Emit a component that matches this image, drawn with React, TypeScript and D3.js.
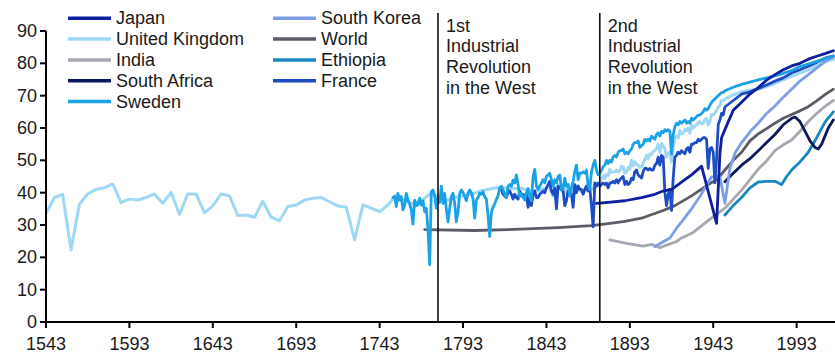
import React from "react";
import * as d3 from "d3";

type Pt = [number, number];

// ---------- data (life expectancy at birth, years) ----------
const ukEarly: Pt[] = [
  [1543, 33.6], [1548, 38.5], [1553, 39.5], [1558, 22.3], [1563, 36.4], [1568, 39.6], [1573, 41.0], [1578, 41.5],
  [1583, 42.7], [1588, 36.9], [1593, 38.0], [1598, 37.7], [1603, 38.5], [1608, 39.6], [1613, 36.7], [1618, 40.1],
  [1623, 33.3], [1628, 39.6], [1633, 39.6], [1638, 33.8], [1643, 35.9], [1648, 39.6], [1653, 39.0], [1658, 32.9],
  [1663, 33.1], [1668, 32.4], [1673, 37.4], [1678, 32.4], [1683, 31.3], [1688, 35.7], [1693, 36.2], [1698, 37.7],
  [1703, 38.3], [1708, 38.5], [1713, 37.2], [1718, 35.9], [1723, 35.5], [1728, 25.4], [1733, 36.2], [1738, 35.2],
  [1743, 34.1], [1748, 36.2], [1753, 39.3], [1758, 37.5], [1763, 36.5], [1768, 37.5], [1773, 39.5], [1778, 39.0],
  [1783, 37.5], [1788, 38.5], [1793, 39.0], [1798, 39.5], [1803, 40.5], [1808, 41.0], [1813, 41.5], [1818, 41.5],
  [1823, 41.2], [1828, 41.4], [1833, 40.6], [1838, 40.5],
];
const ukLate: Pt[] = [
  [1841, 41.3], [1842, 41.0], [1843, 41.5], [1844, 41.6], [1845, 42.0], [1846, 40.3], [1847, 38.9], [1848, 40.3],
  [1849, 38.5], [1850, 42.5], [1851, 41.5], [1852, 40.8], [1853, 40.2], [1854, 39.8], [1855, 41.0], [1856, 42.6],
  [1857, 41.4], [1858, 40.2], [1859, 41.0], [1860, 42.4], [1861, 41.6], [1862, 42.2], [1863, 40.6], [1864, 40.2],
  [1865, 40.5], [1866, 40.4], [1867, 42.2], [1868, 41.5], [1869, 41.7], [1870, 41.2], [1871, 41.0], [1872, 42.6],
  [1873, 42.8], [1874, 42.7], [1875, 42.6], [1876, 44.3], [1877, 45.3], [1878, 44.3], [1879, 45.6], [1880, 45.3],
  [1881, 47.2], [1882, 46.3], [1883, 46.4], [1884, 46.4], [1885, 47.0], [1886, 46.4], [1887, 46.7], [1888, 48.2],
  [1889, 48.0], [1890, 46.0], [1891, 46.3], [1892, 47.8], [1893, 47.2], [1894, 50.0], [1895, 48.3], [1896, 49.6],
  [1897, 48.7], [1898, 48.6], [1899, 47.8], [1900, 48.0], [1901, 49.2], [1902, 50.2], [1903, 51.6], [1904, 50.5],
  [1905, 52.0], [1906, 51.7], [1907, 52.8], [1908, 53.0], [1909, 53.7], [1910, 55.0], [1911, 52.5], [1912, 55.2],
  [1913, 54.3], [1914, 53.5], [1915, 51.0], [1916, 52.2], [1917, 52.6], [1918, 49.5], [1919, 54.0], [1920, 57.0],
  [1921, 57.6], [1922, 56.9], [1923, 59.2], [1924, 58.2], [1925, 58.5], [1926, 59.5], [1927, 59.2], [1928, 60.0],
  [1929, 58.4], [1930, 60.9], [1931, 60.0], [1932, 60.6], [1933, 60.9], [1934, 61.5], [1935, 62.0], [1936, 61.3],
  [1937, 61.4], [1938, 62.7], [1939, 62.9], [1940, 61.0], [1941, 61.9], [1942, 64.2], [1943, 64.0], [1944, 64.6],
  [1945, 65.4], [1946, 66.5], [1947, 66.9], [1948, 68.5], [1949, 68.6], [1950, 69.0], [1955, 70.2], [1960, 71.2],
  [1965, 71.7], [1970, 72.0], [1975, 72.8], [1980, 73.8], [1985, 74.9], [1990, 75.9], [1995, 77.0], [2000, 78.0],
  [2005, 79.2], [2010, 80.6], [2015, 81.2],
];
const sweden: Pt[] = [
  [1751, 38.5], [1752, 38.8], [1753, 35.7], [1754, 39.8], [1755, 37.7], [1756, 38.8], [1757, 34.7], [1758, 36.0],
  [1759, 39.8], [1760, 37.7], [1761, 36.5], [1762, 34.7], [1763, 30.3], [1764, 37.7], [1765, 36.0], [1766, 36.2],
  [1767, 38.3], [1768, 36.2], [1769, 37.5], [1770, 34.1], [1771, 35.2], [1772, 28.5], [1773, 17.7], [1774, 40.3],
  [1775, 40.8], [1776, 39.0], [1777, 35.2], [1778, 38.5], [1779, 37.0], [1780, 42.0], [1781, 36.7], [1782, 39.8],
  [1783, 35.0], [1784, 31.0], [1785, 35.0], [1786, 38.8], [1787, 39.8], [1788, 36.7], [1789, 31.0], [1790, 34.0],
  [1791, 39.8], [1792, 40.8], [1793, 40.0], [1794, 38.8], [1795, 37.5], [1796, 39.8], [1797, 40.8], [1798, 40.0],
  [1799, 38.0], [1800, 32.1], [1801, 37.7], [1802, 38.5], [1803, 39.8], [1804, 39.5], [1805, 40.3], [1806, 38.8],
  [1807, 38.0], [1808, 33.0], [1809, 26.5], [1810, 34.0], [1811, 35.5], [1812, 36.5], [1813, 38.0], [1814, 39.0],
  [1815, 41.5], [1816, 42.0], [1817, 40.8], [1818, 39.5], [1819, 38.5], [1820, 41.9], [1821, 42.5], [1822, 42.0],
  [1823, 43.9], [1824, 43.0], [1825, 45.5], [1826, 42.5], [1827, 38.8], [1828, 39.8], [1829, 38.5], [1830, 37.7],
  [1831, 40.0], [1832, 41.3], [1833, 38.8], [1834, 37.5], [1835, 45.0], [1836, 47.2], [1837, 42.0], [1838, 41.0],
  [1839, 42.0], [1840, 43.0], [1841, 44.0], [1842, 43.0], [1843, 45.0], [1844, 45.5], [1845, 46.0], [1846, 44.0],
  [1847, 42.0], [1848, 44.0], [1849, 43.0], [1850, 45.0], [1851, 45.5], [1852, 41.0], [1853, 41.0], [1854, 44.5],
  [1855, 42.0], [1856, 42.5], [1857, 39.0], [1858, 41.5], [1859, 43.5], [1860, 46.5], [1861, 48.5], [1862, 44.0],
  [1863, 46.0], [1864, 46.0], [1865, 46.5], [1866, 46.0], [1867, 47.0], [1868, 42.0], [1869, 41.0], [1870, 46.5],
  [1871, 48.5], [1872, 50.0], [1873, 47.0], [1874, 45.5], [1875, 46.0], [1876, 47.0], [1877, 48.0], [1878, 48.5],
  [1879, 50.0], [1880, 49.0], [1881, 50.0], [1882, 49.5], [1883, 51.0], [1884, 51.5], [1885, 51.0], [1886, 52.5],
  [1887, 53.0], [1888, 53.0], [1889, 53.5], [1890, 52.0], [1891, 52.5], [1892, 52.0], [1893, 53.0], [1894, 53.5],
  [1895, 55.0], [1896, 55.5], [1897, 55.5], [1898, 56.0], [1899, 54.0], [1900, 54.5], [1901, 55.0], [1902, 56.5],
  [1903, 56.0], [1904, 56.5], [1905, 56.0], [1906, 57.5], [1907, 57.0], [1908, 56.5], [1909, 58.0], [1910, 58.5],
  [1911, 57.5], [1912, 59.0], [1913, 58.5], [1914, 59.5], [1915, 59.0], [1916, 59.5], [1917, 59.0], [1918, 52.0],
  [1919, 58.0], [1920, 60.4], [1921, 61.5], [1922, 61.0], [1923, 62.0], [1924, 61.5], [1925, 62.0], [1926, 62.5],
  [1927, 61.5], [1928, 62.0], [1929, 61.5], [1930, 63.0], [1931, 62.5], [1932, 63.0], [1933, 63.5], [1934, 64.0],
  [1935, 64.0], [1936, 64.5], [1937, 65.0], [1938, 66.0], [1939, 65.5], [1940, 66.0], [1941, 67.0], [1942, 68.0],
  [1943, 68.5], [1944, 69.0], [1945, 69.5], [1946, 70.0], [1947, 70.5], [1948, 71.0], [1949, 71.0], [1950, 71.5],
  [1955, 72.6], [1960, 73.5], [1965, 74.2], [1970, 74.9], [1975, 75.5], [1980, 76.1], [1985, 76.9], [1990, 77.8],
  [1995, 79.0], [2000, 79.8], [2005, 80.6], [2010, 81.5], [2015, 82.2],
];
const france: Pt[] = [
  [1816, 41.0], [1817, 39.5], [1818, 39.0], [1819, 38.5], [1820, 40.0], [1821, 40.5], [1822, 39.5], [1823, 38.0],
  [1824, 39.5], [1825, 38.5], [1826, 38.0], [1827, 40.5], [1828, 39.5], [1829, 39.5], [1830, 39.0], [1831, 39.5],
  [1832, 35.5], [1833, 38.5], [1834, 36.0], [1835, 39.5], [1836, 40.5], [1837, 38.5], [1838, 38.5], [1839, 39.5],
  [1840, 40.0], [1841, 40.5], [1842, 40.0], [1843, 41.5], [1844, 42.5], [1845, 43.5], [1846, 40.5], [1847, 39.5],
  [1848, 41.5], [1849, 35.0], [1850, 42.0], [1851, 41.5], [1852, 41.0], [1853, 40.5], [1854, 36.0], [1855, 37.5],
  [1856, 40.5], [1857, 40.5], [1858, 39.5], [1859, 35.5], [1860, 42.5], [1861, 40.0], [1862, 42.0], [1863, 41.0],
  [1864, 41.0], [1865, 39.5], [1866, 41.0], [1867, 42.0], [1868, 40.5], [1869, 41.5], [1870, 36.0], [1871, 29.5],
  [1872, 43.0], [1873, 42.0], [1874, 43.0], [1875, 42.0], [1876, 42.5], [1877, 43.0], [1878, 42.5], [1879, 43.0],
  [1880, 41.5], [1881, 43.0], [1882, 43.0], [1883, 43.5], [1884, 43.0], [1885, 44.0], [1886, 43.0], [1887, 44.0],
  [1888, 44.5], [1889, 45.0], [1890, 42.5], [1891, 43.5], [1892, 42.5], [1893, 43.0], [1894, 44.5], [1895, 44.0],
  [1896, 46.5], [1897, 47.0], [1898, 45.5], [1899, 45.0], [1900, 44.5], [1901, 46.5], [1902, 47.5], [1903, 47.5],
  [1904, 47.0], [1905, 47.5], [1906, 47.0], [1907, 47.0], [1908, 48.5], [1909, 49.0], [1910, 51.0], [1911, 48.5],
  [1912, 51.5], [1913, 51.0], [1914, 40.0], [1915, 36.0], [1916, 39.5], [1917, 41.0], [1918, 34.5], [1919, 44.5],
  [1920, 51.0], [1921, 51.5], [1922, 52.5], [1923, 52.0], [1924, 53.0], [1925, 52.5], [1926, 52.0], [1927, 53.5],
  [1928, 54.0], [1929, 52.5], [1930, 55.0], [1931, 55.0], [1932, 55.5], [1933, 55.5], [1934, 56.5], [1935, 56.0],
  [1936, 56.5], [1937, 57.0], [1938, 57.0], [1939, 56.5], [1940, 47.5], [1941, 53.5], [1942, 54.0], [1943, 52.5],
  [1944, 43.0], [1945, 50.5], [1946, 61.0], [1947, 62.5], [1948, 64.5], [1949, 64.0], [1950, 66.5], [1955, 68.5],
  [1960, 70.5], [1965, 71.2], [1970, 72.2], [1975, 73.3], [1980, 74.5], [1985, 75.5], [1990, 77.0], [1995, 78.0],
  [2000, 79.1], [2005, 80.3], [2010, 81.6], [2015, 82.3],
];
const japan: Pt[] = [
  [1873, 36.7], [1880, 37.0], [1890, 37.5], [1900, 38.5], [1908, 39.5], [1913, 40.5], [1918, 41.0], [1922, 42.5],
  [1926, 44.0], [1930, 45.5], [1936, 48.2], [1945, 30.5], [1947, 52.0], [1948, 57.0], [1950, 59.5], [1955, 65.5],
  [1960, 68.0], [1965, 70.5], [1970, 72.5], [1975, 74.8], [1980, 76.5], [1985, 78.0], [1990, 79.2], [1995, 80.0],
  [2000, 81.3], [2005, 82.2], [2010, 83.0], [2015, 83.9],
];
const world: Pt[] = [
  [1770, 28.6], [1800, 28.3], [1820, 28.6], [1850, 29.2], [1870, 29.8], [1880, 30.4], [1890, 31.1], [1900, 32.1],
  [1913, 34.5], [1920, 36.0], [1930, 39.0], [1940, 42.5], [1945, 44.0], [1950, 47.0], [1955, 50.0], [1960, 52.5],
  [1965, 56.0], [1970, 58.2], [1975, 59.8], [1980, 61.5], [1985, 63.0], [1990, 64.2], [1995, 65.3], [2000, 66.6],
  [2005, 68.4], [2010, 70.3], [2015, 72.0],
];
const india: Pt[] = [
  [1881, 25.4], [1891, 24.3], [1901, 23.5], [1906, 24.0], [1911, 23.0], [1921, 24.9], [1924, 26.0], [1931, 27.7],
  [1943, 32.6], [1950, 35.2], [1955, 38.0], [1960, 40.8], [1965, 44.0], [1970, 47.3], [1975, 49.8], [1980, 53.0],
  [1985, 54.8], [1990, 56.3], [1995, 59.0], [2000, 62.0], [2005, 64.5], [2010, 66.7], [2015, 68.5],
];
const southKorea: Pt[] = [
  [1908, 23.3], [1912, 24.5], [1917, 26.0], [1921, 29.0], [1925, 31.6], [1930, 35.0], [1935, 38.8], [1942, 44.9],
  [1947, 45.0], [1950, 36.7], [1953, 47.5], [1956, 52.2], [1960, 55.5], [1966, 59.4], [1970, 61.5], [1975, 64.5],
  [1980, 66.8], [1985, 69.5], [1990, 72.0], [1995, 74.5], [2000, 76.5], [2005, 78.5], [2010, 80.5], [2015, 82.0],
];
const southAfrica: Pt[] = [
  [1950, 43.4], [1955, 46.0], [1960, 48.5], [1965, 50.5], [1970, 53.0], [1975, 55.5], [1980, 58.0], [1985, 61.0],
  [1990, 63.0], [1992, 63.4], [1995, 62.0], [1998, 59.0], [2001, 56.0], [2004, 54.0], [2006, 53.5], [2008, 55.0],
  [2010, 57.5], [2012, 60.0], [2015, 62.5],
];
const ethiopia: Pt[] = [
  [1950, 33.1], [1955, 36.0], [1960, 38.5], [1965, 41.5], [1970, 43.3], [1975, 43.5], [1980, 43.5], [1984, 42.5],
  [1987, 45.0], [1990, 47.0], [1995, 49.5], [2000, 52.5], [2005, 57.0], [2010, 61.8], [2015, 65.0],
];

const xTickValues = [1543, 1593, 1643, 1693, 1743, 1793, 1843, 1893, 1943, 1993];
const yTickValues = [0, 10, 20, 30, 40, 50, 60, 70, 80, 90];
const revolutions = [
  { year: 1778, lines: ["1st", "Industrial", "Revolution", "in the West"] },
  { year: 1875, lines: ["2nd", "Industrial", "Revolution", "in the West"] },
];

const COLORS: Record<string, string> = {
  Japan: "#0d1f9e",
  "United Kingdom": "#9ed8f6",
  India: "#a7a7b1",
  "South Africa": "#0b195c",
  Sweden: "#1ba1e6",
  "South Korea": "#7d9de8",
  World: "#5c5c67",
  Ethiopia: "#1887c2",
  France: "#1e4dc3",
};

const legendCol1 = ["Japan", "United Kingdom", "India", "South Africa", "Sweden"];
const legendCol2 = ["South Korea", "World", "Ethiopia", "France"];

// draw order (bottom to top)
const drawOrder: { name: string; data: Pt[] }[] = [
  { name: "United Kingdom", data: [...ukEarly, ...ukLate] },
  { name: "World", data: world },
  { name: "India", data: india },
  { name: "Ethiopia", data: ethiopia },
  { name: "South Africa", data: southAfrica },
  { name: "South Korea", data: southKorea },
  { name: "France", data: france },
  { name: "Sweden", data: sweden },
  { name: "Japan", data: japan },
];

const W = 835;
const H = 355;
const FONT = "'Liberation Sans', Arial, Helvetica, sans-serif";
const TEXT = "#1a1a1a";
const FS = 18;

export default function App() {
  const x = d3.scaleLinear().domain([1543, 2016]).range([46, 835]);
  const y = d3.scaleLinear().domain([0, 90]).range([322, 31]);
  const line = d3
    .line<Pt>()
    .x((d) => x(d[0]))
    .y((d) => y(d[1]));

  return (
    <svg
      width={W}
      height={H}
      style={{ position: "absolute", left: 0, top: 0, background: "#fff" }}
      fontFamily={FONT}
    >
      {/* data lines */}
      <g fill="none" strokeLinejoin="round" strokeLinecap="round">
        {drawOrder.map((s, i) => (
          <path
            key={i}
            d={line(s.data) || ""}
            stroke={COLORS[s.name]}
            strokeWidth={s.name === "United Kingdom" ? 3 : 2.8}
          />
        ))}
      </g>

      {/* revolution markers */}
      {revolutions.map((r) => (
        <g key={r.year}>
          <line x1={x(r.year)} x2={x(r.year)} y1={13} y2={y(0)} stroke="#111" strokeWidth={1.6} />
          {r.lines.map((t, i) => (
            <text key={i} x={x(r.year) + 8} y={31.5 + i * 20.8} fontSize={FS} fill={TEXT}>
              {t}
            </text>
          ))}
        </g>
      ))}

      {/* y axis */}
      <line x1={x(1543)} x2={x(1543)} y1={y(90)} y2={y(0)} stroke="#000" strokeWidth={2} />
      {yTickValues.map((v) => (
        <g key={v}>
          <line x1={x(1543) - 6} x2={x(1543)} y1={y(v)} y2={y(v)} stroke="#000" strokeWidth={2} />
          <text x={37} y={y(v) + 6} textAnchor="end" fontSize={FS} fill={TEXT}>
            {v}
          </text>
        </g>
      ))}

      {/* x axis */}
      <line x1={x(1543) - 1} x2={W} y1={y(0)} y2={y(0)} stroke="#000" strokeWidth={2} />
      {xTickValues.map((v) => (
        <g key={v}>
          <line x1={x(v)} x2={x(v)} y1={y(0)} y2={y(0) + 6} stroke="#000" strokeWidth={2} />
          <text x={x(v)} y={350} textAnchor="middle" fontSize={FS} fill={TEXT}>
            {v}
          </text>
        </g>
      ))}

      {/* legend */}
      {[legendCol1, legendCol2].map((col, ci) =>
        col.map((name, ri) => {
          const lx = ci === 0 ? 68 : 273;
          const ly = 18.3 + ri * 20.8;
          return (
            <g key={name}>
              <line x1={lx} x2={lx + 43} y1={ly} y2={ly} stroke={COLORS[name]} strokeWidth={3.5} />
              <text x={lx + 48} y={ly + 6} fontSize={FS} fill={TEXT}>
                {name}
              </text>
            </g>
          );
        })
      )}
    </svg>
  );
}
